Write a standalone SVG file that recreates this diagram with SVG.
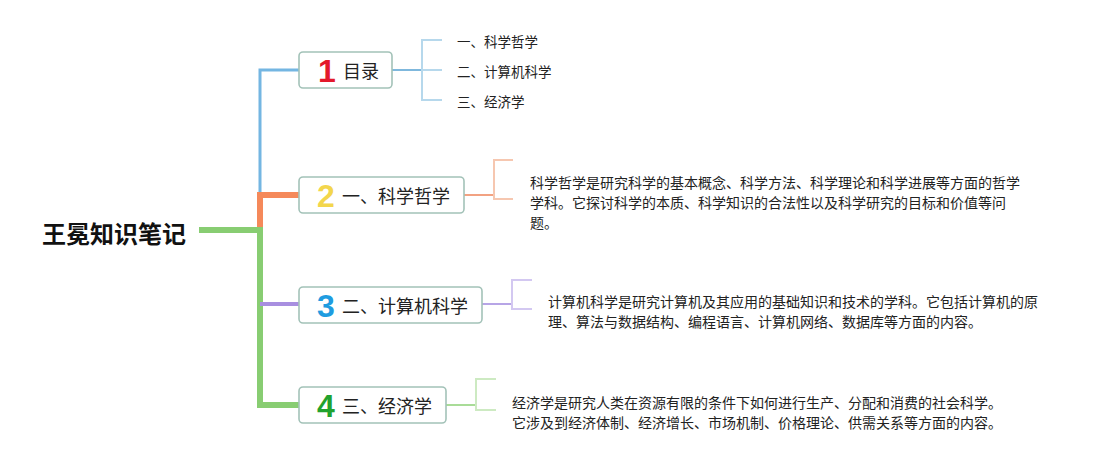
<svg xmlns="http://www.w3.org/2000/svg" width="1107" height="460" viewBox="0 0 1107 460">
<style>
text{font-family:"Noto Sans CJK SC","Noto Sans",sans-serif;fill:#222;dominant-baseline:central}
.root{font-size:24px;font-weight:bold;fill:#111}
.box{fill:#fff;stroke:#a3c2b8;stroke-width:1.6}
.lbl{font-size:18px}
.num{font-family:"Liberation Sans",Arial,sans-serif;font-size:32px;font-weight:bold;text-anchor:middle}
.d{font-size:14px}
.c{font-size:13.5px}
.ln{fill:none;stroke-linejoin:miter;stroke-linecap:butt}
</style>
<rect width="1107" height="460" fill="#fff"/>
<g id="connectors">
  <path class="ln" d="M260,195 V70 H299" stroke="#74b6e2" stroke-width="3"/>
  <path class="ln" d="M260,230 V195 H299" stroke="#f5895a" stroke-width="6"/>
  <path class="ln" d="M199,230 H260 V405 H299" stroke="#88cd72" stroke-width="6"/>
  <path class="ln" d="M260,304 H299" stroke="#a88fe0" stroke-width="4"/>
  <path class="ln" d="M392,70 H422" stroke="#7fb8dd" stroke-width="2"/>
  <path class="ln" d="M442,40 H422 V100 H442 M422,70 H442" stroke="#b6d8ec" stroke-width="2"/>
  <path class="ln" d="M464,195 H494" stroke="#f2a282" stroke-width="2"/>
  <path class="ln" d="M513,160 H494 V199 H513" stroke="#f6c7b0" stroke-width="2"/>
  <path class="ln" d="M482,304 H512" stroke="#b7a5e6" stroke-width="2"/>
  <path class="ln" d="M532,280 H512 V309 H532" stroke="#d3c8f1" stroke-width="2"/>
  <path class="ln" d="M446,405 H476" stroke="#a9dc98" stroke-width="2"/>
  <path class="ln" d="M496,379 H476 V410 H496" stroke="#cdeac2" stroke-width="2"/>
</g>
<g id="root"><text class="root" x="42" y="232">王冕知识笔记</text></g>
<g id="n1">
  <rect class="box" x="299" y="52" width="93" height="36" rx="4"/>
  <text class="num" x="327" y="71" fill="#e3192b" style="fill:#e3192b">1</text>
  <text class="lbl" x="343" y="70">目录</text>
</g>
<g id="n1-items">
  <text class="c" x="457" y="41">一、科学哲学</text>
  <text class="c" x="457" y="71">二、计算机科学</text>
  <text class="c" x="457" y="101">三、经济学</text>
</g>
<g id="n2">
  <rect class="box" x="299" y="177" width="165" height="36" rx="4"/>
  <text class="num" x="326" y="196" style="fill:#f3d64c">2</text>
  <text class="lbl" x="342" y="195">一、科学哲学</text>
</g>
<g id="n2-desc">
  <text class="d" x="530" y="182">科学哲学是研究科学的基本概念、科学方法、科学理论和科学进展等方面的哲学</text>
  <text class="d" x="530" y="202">学科。它探讨科学的本质、科学知识的合法性以及科学研究的目标和价值等问</text>
  <text class="d" x="530" y="222">题。</text>
</g>
<g id="n3">
  <rect class="box" x="299" y="287" width="183" height="36" rx="4"/>
  <text class="num" x="326" y="306" style="fill:#1f9ce0">3</text>
  <text class="lbl" x="342" y="305">二、计算机科学</text>
</g>
<g id="n3-desc">
  <text class="d" x="548" y="301">计算机科学是研究计算机及其应用的基础知识和技术的学科。它包括计算机的原</text>
  <text class="d" x="548" y="321">理、算法与数据结构、编程语言、计算机网络、数据库等方面的内容。</text>
</g>
<g id="n4">
  <rect class="box" x="299" y="387" width="147" height="36" rx="4"/>
  <text class="num" x="326" y="406" style="fill:#22a22e">4</text>
  <text class="lbl" x="342" y="405">三、经济学</text>
</g>
<g id="n4-desc">
  <text class="d" x="512" y="402">经济学是研究人类在资源有限的条件下如何进行生产、分配和消费的社会科学。</text>
  <text class="d" x="512" y="422">它涉及到经济体制、经济增长、市场机制、价格理论、供需关系等方面的内容。</text>
</g>
</svg>
